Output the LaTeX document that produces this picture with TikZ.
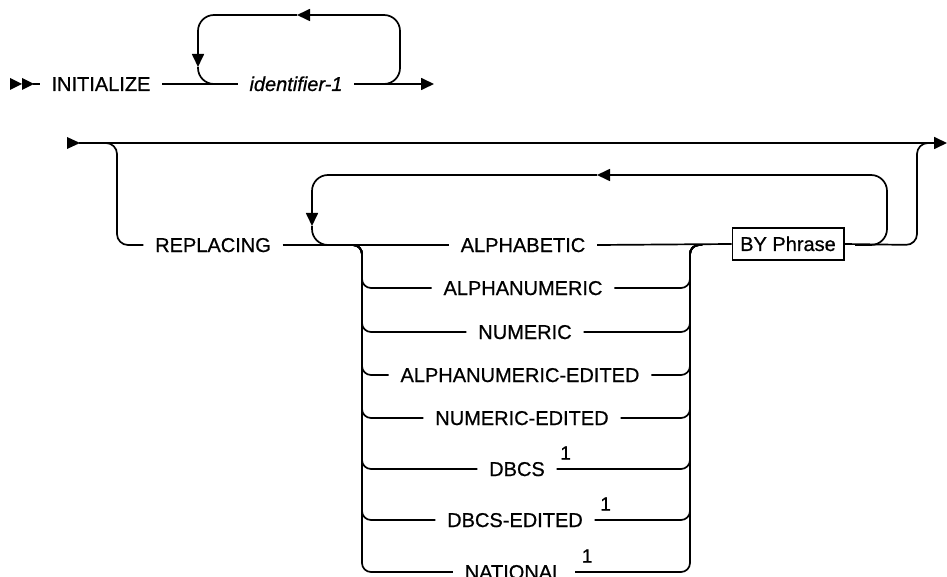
\documentclass[tikz,border=0pt]{standalone}
\usepackage{fontspec}
\setmainfont{Liberation Sans}
\newfontfamily\medfont[BoldFont={Liberation Sans},BoldItalicFont={Liberation Sans Italic},BoldFeatures={FakeBold=0.7},BoldItalicFeatures={FakeBold=0.7}]{Liberation Sans}
\usetikzlibrary{arrows.meta}
\begin{document}
\begin{tikzpicture}[x=1pt,y=-1pt,line width=1.7pt,
  kw/.style={inner xsep=11pt,inner ysep=0pt,text height=14pt,text depth=0pt,font=\fontsize{20}{24}\medfont\bfseries},
  var/.style={kw,font=\fontsize{20}{24}\medfont\bfseries\itshape},
  supone/.style={inner sep=0pt,font=\fontsize{19}{22}\medfont\bfseries},
  frag/.style={draw,line width=1.4pt,inner xsep=8pt,minimum height=32pt,text height=14pt,text depth=0pt,font=\fontsize{20}{24}\medfont\bfseries},
  tip/.style={-{Triangle[length=13pt,width=12pt]}},
  loopc/.style={rounded corners=16pt},
  stackc/.style={rounded corners=9pt}]
\useasboundingbox (0,0) rectangle (947,577);

% ---------- row 1 ----------
\fill (10,78) -- (22,84) -- (10,90) -- cycle;
\fill (22,78) -- (34,84) -- (22,90) -- cycle;
\coordinate (s1) at (33,84);
\node[kw] (init) at (101,84) {INITIALIZE};
\node[var] (ident) at (296,84) {identifier-1};
\coordinate (e1) at (434,84);
\draw (s1) -- (init.west);
\draw (init.east) -- (ident.west);
\draw[tip] (ident.east) -- (e1);
% repeat loop 1
\coordinate (l1r) at (400,84);
\coordinate (l1tr) at (400,15);
\coordinate (l1ar) at (297,15);
\coordinate (l1tl) at (198,15);
\coordinate (l1ad) at (198,67);
\coordinate (l1bl) at (198,84);
\draw[loopc,tip] (370,84) -- (l1r) -- (l1tr) -- (l1ar);
\draw[loopc,tip] (l1ar) -- (l1tl) -- (l1ad);
\draw[loopc] (l1ad) -- (l1bl) -- (228,84);

% ---------- row 2 ----------
\fill (67,137) -- (80,143) -- (67,149) -- cycle;
\coordinate (s2) at (79,143);
\coordinate (e2) at (947,143);
\draw[tip] (s2) -- (e2);

\node[kw] (repl) at (213,245) {REPLACING};
\draw[rounded corners=11pt] (104,143) -- (117,143) -- (117,245) -- (repl.west);

\node[kw] (alpha) at (523,245) {ALPHABETIC};
\node[frag] (by) at (788,244) {BY Phrase};
\draw (repl.east) -- (alpha.west);
\draw (alpha.east) -- (by.west);
\draw[rounded corners=11pt] (by.east) -- (917,245) -- (917,143) -- (932,143);

% repeat loop 2
\coordinate (l2r) at (887,245);
\coordinate (l2tr) at (887,175);
\coordinate (l2ar) at (597,175);
\coordinate (l2tl) at (312,175);
\coordinate (l2ad) at (312,226);
\coordinate (l2bl) at (312,245);
\draw[loopc,tip] (855,245) -- (l2r) -- (l2tr) -- (l2ar);
\draw[loopc,tip] (l2ar) -- (l2tl) -- (l2ad);
\draw[loopc] (l2ad) -- (l2bl) -- (342,245);

% choice stack
\coordinate (cl) at (350,245);
\coordinate (cr) at (702,245);
\node[kw] (anum) at (523,288) {ALPHANUMERIC};
\node[kw] (num) at (525,332) {NUMERIC};
\node[kw] (aned) at (520,375) {ALPHANUMERIC-EDITED};
\node[kw] (ned) at (522,418) {NUMERIC-EDITED};
\node[kw] (dbcs) at (517,469) {DBCS};
\node[kw] (dbed) at (515,520) {DBCS-EDITED};
\node[kw] (nat) at (514,572) {NATIONAL};
\foreach \n/\y in {anum/288,num/332,aned/375,ned/418,dbcs/469,dbed/520,nat/572}{
  \draw[stackc] (cl) -- (362,245) -- (362,\y) -- (\n.west);
  \draw[stackc] (\n.east) -- (690,\y) -- (690,245) -- (cr);
}
\node[supone] (f1) at ([xshift=9pt,yshift=16pt]dbcs.east) {1};
\node[supone] (f2) at ([xshift=11pt,yshift=16pt]dbed.east) {1};
\node[supone] (f3) at ([xshift=12pt,yshift=16pt]nat.east) {1};
\end{tikzpicture}
\end{document}
